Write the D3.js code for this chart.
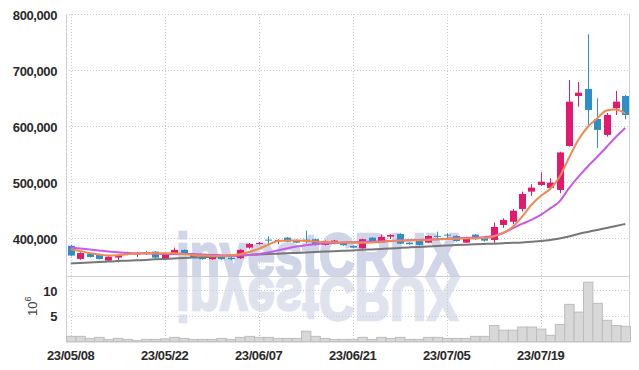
<!DOCTYPE html>
<html>
<head>
<meta charset="utf-8">
<script src="https://cdn.jsdelivr.net/npm/d3@7"></script>
<style>
  body { margin: 0; background: #fff; }
  svg text { font-family: "Liberation Sans", Arial, sans-serif; }
</style>
</head>
<body>
<svg id="drawing_region"></svg>
<script>
// trading days, 2023
const dates = [
  '23/05/08','23/05/09','23/05/10','23/05/11','23/05/12','23/05/15','23/05/16','23/05/17','23/05/18','23/05/19',
  '23/05/22','23/05/23','23/05/24','23/05/25','23/05/26','23/05/30','23/05/31','23/06/01','23/06/02','23/06/05',
  '23/06/07','23/06/08','23/06/09','23/06/12','23/06/13','23/06/14','23/06/15','23/06/16','23/06/19','23/06/20',
  '23/06/21','23/06/22','23/06/23','23/06/26','23/06/27','23/06/28','23/06/29','23/06/30','23/07/03','23/07/04',
  '23/07/05','23/07/06','23/07/07','23/07/10','23/07/11','23/07/12','23/07/13','23/07/14','23/07/17','23/07/18',
  '23/07/19','23/07/20','23/07/21','23/07/24','23/07/25','23/07/26','23/07/27','23/07/28','23/07/31','23/08/01'
];
const tickDates = ['23/05/08','23/05/22','23/06/07','23/06/21','23/07/05','23/07/19'];

const open = [386000,362500,372000,371000,359500,365000,374500,371000,374500,375500,
  362000,371400,378600,371000,366600,362000,366600,364800,363800,382700,
  389300,397000,394600,400500,396400,397000,397700,387500,391600,391600,
  385700,381600,400500,391600,402300,407100,391600,395200,391600,403600,
  405900,403600,391600,405900,400500,396400,423200,428900,451800,482700,
  494600,489300,485700,564300,653600,666100,612500,584000,631600,653600];
const high = [388000,374500,373000,372000,367500,371000,375500,374500,376800,376500,
  372000,382700,379500,372000,367500,367500,367500,365500,380000,390800,
  392500,403000,397500,401500,397500,413000,398500,395500,396500,392500,
  386500,398500,401500,406000,406500,408000,392500,396000,404500,411200,
  408400,404500,402000,407000,401500,427300,435000,451800,482700,495900,
  517300,506600,554000,682100,678600,763800,649500,623200,662500,655400];
const low = [367000,361000,365000,361500,358500,356500,369000,366000,369600,364000,
  361000,370500,370500,364000,361000,361000,361000,360200,362500,381000,
  388000,388800,388800,392500,391000,390500,386500,386500,389000,386000,
  382000,380800,391000,391000,398000,389000,388000,386500,391000,397700,
  397700,393500,391000,396500,393400,390800,418000,425000,447000,475000,
  493000,485700,480000,563000,634500,598800,560200,580900,619600,612000];
const close = [368500,373000,366000,362500,366500,369500,369500,372000,372000,364800,
  371000,378600,371400,364800,362000,366600,362000,362000,378600,389300,
  391000,395900,396400,393400,391600,394600,387500,394600,395200,387000,
  382700,397700,391600,401800,405400,389800,388800,387500,403600,402300,
  404800,394600,401200,397700,395200,419600,432100,448600,478600,489900,
  500500,498800,552700,643400,659500,628600,592900,619600,643400,619600];

// moving averages
const ma5 = [379800,376800,373200,370500,368400,369100,370900,371800,372700,372700,
  372700,372700,371400,369600,368400,367900,367900,368800,370900,375000,
  380400,387500,394600,395500,395500,394600,393800,392900,392300,392000,
  391600,391600,392000,392900,394600,395500,395500,395900,396400,397300,
  398200,398700,399100,399500,400000,402700,408900,419600,437500,458900,
  475000,487500,508900,542900,575000,598200,613400,627700,629500,622300];
const ma10 = [383000,381300,379500,377700,375900,374500,373200,372700,372300,371800,
  371400,371400,371400,371100,370500,369600,369100,368400,368800,369600,
  371400,374100,377700,381300,384500,387000,388800,390200,391100,391800,
  392300,392900,393400,394100,394600,395200,395900,396400,397000,397700,
  398700,399500,400000,400500,401400,403600,408900,417000,425000,432100,
  441100,452700,465200,488400,508900,527700,544600,562500,580400,596400];
const ma60 = [354500,355400,356100,356800,357700,358600,359300,360100,360800,361700,
  362500,363300,364000,364900,365700,366400,367300,368100,368800,369700,
  370500,371300,371900,372700,373300,374100,374800,375600,376300,377000,
  377700,378700,379500,380400,381200,382200,383100,383900,384700,385700,
  386600,387200,387900,388700,389300,389800,390600,391300,392000,393300,
  394600,396400,399100,402700,407100,410700,414300,417900,421400,425000];

// volume, in 10^6 shares
const volume = [1.0,1.0,0.6,0.8,0.4,0.6,0.4,0.15,0.4,0.4,
  0.5,0.8,0.6,0.4,0.4,0.4,0.6,0.4,0.8,1.0,
  0.8,0.8,0.6,0.6,0.6,2.0,1.0,0.6,0.4,0.4,
  0.4,0.8,0.4,0.8,0.6,0.8,0.4,0.4,0.8,0.8,
  0.6,0.6,0.6,1.0,1.0,3.1,2.2,2.2,2.8,2.8,
  2.4,1.2,3.3,7.2,5.7,11.5,7.4,4.1,3.1,2.95];

const priceTicks = [400000, 500000, 600000, 700000, 800000];
const volumeTicks = [5, 10];

const config = {
  width: 639,
  height: 370,
  left: 66,
  right: 630,
  top: 14,
  split: 276,
  bottom: 341.5
};

const svg = d3.select('#drawing_region')
  .attr('width', config.width)
  .attr('height', config.height);

const x = d3.scaleBand()
  .domain(dates)
  .range([config.left, config.right])
  .padding(0);
const cx = d => x(d) + x.bandwidth() / 2;

const yPrice = d3.scaleLinear()
  .domain([332000, 800000])
  .range([config.split, config.top]);

const yVol = d3.scaleLinear()
  .domain([0, 12.7])
  .range([config.bottom, config.split]);

// watermark + its reflection under the split line
const wm = svg.append('g');
wm.append('text')
  .attr('x', 176).attr('y', config.split)
  .attr('font-size', 62).attr('font-weight', 'bold')
  .attr('textLength', 283).attr('lengthAdjust', 'spacingAndGlyphs')
  .attr('fill', '#d0d5e7').attr('stroke', '#d0d5e7').attr('stroke-width', 2.5)
  .text('investCRUX');
wm.append('text')
  .attr('x', 176).attr('y', config.split)
  .attr('transform', `translate(0,${config.split * 2 + 2}) scale(1,-1)`)
  .attr('font-size', 62).attr('font-weight', 'bold')
  .attr('textLength', 283).attr('lengthAdjust', 'spacingAndGlyphs')
  .attr('fill', '#e0e3ee').attr('stroke', '#e0e3ee').attr('stroke-width', 2.5)
  .text('investCRUX');

// grid
const grid = svg.append('g')
  .attr('stroke', '#c6cadd')
  .attr('stroke-dasharray', '1,2')
  .attr('stroke-width', 1);

grid.selectAll('.hp')
  .data(priceTicks)
  .enter()
  .append('line')
  .attr('x1', config.left).attr('x2', config.right)
  .attr('y1', d => Math.round(yPrice(d)) + 0.5)
  .attr('y2', d => Math.round(yPrice(d)) + 0.5);

grid.selectAll('.hv')
  .data(volumeTicks)
  .enter()
  .append('line')
  .attr('x1', config.left).attr('x2', config.right)
  .attr('y1', d => Math.round(yVol(d)) + 0.5)
  .attr('y2', d => Math.round(yVol(d)) + 0.5);

grid.selectAll('.vx')
  .data(tickDates)
  .enter()
  .append('line')
  .attr('x1', d => Math.round(cx(d)) + 0.5)
  .attr('x2', d => Math.round(cx(d)) + 0.5)
  .attr('y1', config.top).attr('y2', config.bottom);

// frame
const frame = svg.append('g').attr('stroke', '#cfcfd6').attr('stroke-width', 1).attr('fill', 'none');
frame.append('line').attr('x1', config.left + 0.5).attr('x2', config.left + 0.5)
  .attr('y1', config.top).attr('y2', config.bottom);
frame.append('line').attr('x1', config.right - 0.5).attr('x2', config.right - 0.5)
  .attr('y1', config.top).attr('y2', config.bottom);
frame.append('line').attr('x1', config.left).attr('x2', config.right)
  .attr('y1', config.split + 0.5).attr('y2', config.split + 0.5);

// volume bars
svg.append('g')
  .selectAll('rect')
  .data(volume)
  .enter()
  .append('rect')
  .attr('x', (d, i) => x(dates[i]) + 0.5)
  .attr('width', x.bandwidth())
  .attr('y', d => yVol(d))
  .attr('height', d => yVol(0) - yVol(d))
  .attr('fill', '#d8d8d8')
  .attr('stroke', '#bdbdbd')
  .attr('stroke-width', 1);

svg.append('line')
  .attr('x1', config.left).attr('x2', config.right)
  .attr('y1', config.bottom + 0.5).attr('y2', config.bottom + 0.5)
  .attr('stroke', '#c8c8c8');

// candles
const up = '#e2196c', down = '#2c8fc7';
const candle = svg.append('g')
  .selectAll('g')
  .data(dates)
  .enter()
  .append('g')
  .attr('fill', (d, i) => close[i] >= open[i] ? up : down)
  .attr('stroke', (d, i) => close[i] >= open[i] ? up : down);

candle.append('line')
  .attr('x1', d => Math.round(cx(d)) + 0.5)
  .attr('x2', d => Math.round(cx(d)) + 0.5)
  .attr('y1', (d, i) => yPrice(high[i]))
  .attr('y2', (d, i) => yPrice(low[i]))
  .attr('stroke-width', 1);

candle.append('rect')
  .attr('x', d => Math.round(cx(d)) - 3)
  .attr('width', 7)
  .attr('y', (d, i) => yPrice(Math.max(open[i], close[i])))
  .attr('height', (d, i) => Math.max(1, yPrice(Math.min(open[i], close[i])) - yPrice(Math.max(open[i], close[i]))))
  .attr('stroke', 'none');

// moving averages
const line = d3.line()
  .x((d, i) => cx(dates[i]))
  .y(d => yPrice(d))
  .curve(d3.curveMonotoneX);

[[ma60, '#777777'], [ma10, '#c95ae8'], [ma5, '#f08a50']].forEach(([s, c]) => {
  svg.append('path')
    .attr('d', line(s))
    .attr('fill', 'none')
    .attr('stroke', c)
    .attr('stroke-width', 2);
});

// axes
const priceAxis = svg.append('g')
  .attr('transform', `translate(${config.left - 6},0)`)
  .call(d3.axisLeft(yPrice).tickValues(priceTicks).tickFormat(d3.format(',')).tickSize(0));
const volAxis = svg.append('g')
  .attr('transform', `translate(${config.left - 6},0)`)
  .call(d3.axisLeft(yVol).tickValues(volumeTicks).tickSize(0));
const dateAxis = svg.append('g')
  .attr('transform', `translate(0,${config.bottom + 2})`)
  .call(d3.axisBottom(x).tickValues(tickDates).tickSize(0));

[priceAxis, volAxis, dateAxis].forEach(a => {
  a.select('.domain').remove();
  a.selectAll('text')
    .attr('font-family', '"Liberation Sans", Arial, sans-serif')
    .attr('font-size', 13)
    .attr('font-weight', 'bold')
    .attr('letter-spacing', -0.4)
    .attr('fill', '#2a2a2a');
});
priceAxis.selectAll('text').attr('dy', '0.45em');
volAxis.selectAll('text').attr('dy', '0.4em');
dateAxis.selectAll('text').attr('dy', '1.05em');

// volume unit label
const unit = svg.append('text')
  .attr('transform', 'translate(37,316) rotate(-90)')
  .attr('font-size', 13)
  .attr('fill', '#444');
unit.append('tspan').text('10');
unit.append('tspan').attr('font-size', 9).attr('dy', -6).text('6');
</script>
</body>
</html>
